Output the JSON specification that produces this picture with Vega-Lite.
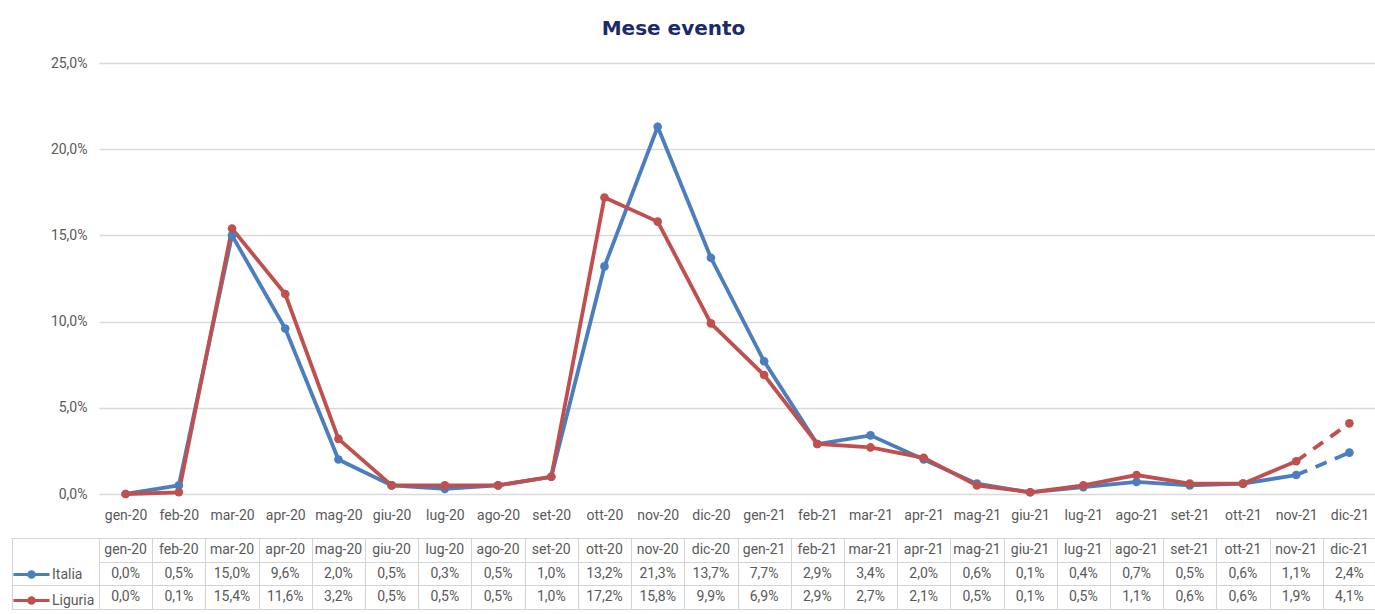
{
  "$schema": "https://vega.github.io/schema/vega-lite/v6.json",
  "padding": {"left": 10, "top": 19, "right": 0, "bottom": 0},
  "background": "white",
  "config": {
    "locale": {"number": {"decimal": ",", "thousands": ".", "grouping": [3], "currency": ["", " €"]}},
    "font": "Roboto",
    "view": {"stroke": null},
    "concat": {"spacing": 15}
  },
  "data": {"values": [
    {"mese": "gen-20", "serie": "Italia", "v": 0.000}, {"mese": "feb-20", "serie": "Italia", "v": 0.005},
    {"mese": "mar-20", "serie": "Italia", "v": 0.150}, {"mese": "apr-20", "serie": "Italia", "v": 0.096},
    {"mese": "mag-20", "serie": "Italia", "v": 0.020}, {"mese": "giu-20", "serie": "Italia", "v": 0.005},
    {"mese": "lug-20", "serie": "Italia", "v": 0.003}, {"mese": "ago-20", "serie": "Italia", "v": 0.005},
    {"mese": "set-20", "serie": "Italia", "v": 0.010}, {"mese": "ott-20", "serie": "Italia", "v": 0.132},
    {"mese": "nov-20", "serie": "Italia", "v": 0.213}, {"mese": "dic-20", "serie": "Italia", "v": 0.137},
    {"mese": "gen-21", "serie": "Italia", "v": 0.077}, {"mese": "feb-21", "serie": "Italia", "v": 0.029},
    {"mese": "mar-21", "serie": "Italia", "v": 0.034}, {"mese": "apr-21", "serie": "Italia", "v": 0.020},
    {"mese": "mag-21", "serie": "Italia", "v": 0.006}, {"mese": "giu-21", "serie": "Italia", "v": 0.001},
    {"mese": "lug-21", "serie": "Italia", "v": 0.004}, {"mese": "ago-21", "serie": "Italia", "v": 0.007},
    {"mese": "set-21", "serie": "Italia", "v": 0.005}, {"mese": "ott-21", "serie": "Italia", "v": 0.006},
    {"mese": "nov-21", "serie": "Italia", "v": 0.011}, {"mese": "dic-21", "serie": "Italia", "v": 0.024},
    {"mese": "gen-20", "serie": "Liguria", "v": 0.000}, {"mese": "feb-20", "serie": "Liguria", "v": 0.001},
    {"mese": "mar-20", "serie": "Liguria", "v": 0.154}, {"mese": "apr-20", "serie": "Liguria", "v": 0.116},
    {"mese": "mag-20", "serie": "Liguria", "v": 0.032}, {"mese": "giu-20", "serie": "Liguria", "v": 0.005},
    {"mese": "lug-20", "serie": "Liguria", "v": 0.005}, {"mese": "ago-20", "serie": "Liguria", "v": 0.005},
    {"mese": "set-20", "serie": "Liguria", "v": 0.010}, {"mese": "ott-20", "serie": "Liguria", "v": 0.172},
    {"mese": "nov-20", "serie": "Liguria", "v": 0.158}, {"mese": "dic-20", "serie": "Liguria", "v": 0.099},
    {"mese": "gen-21", "serie": "Liguria", "v": 0.069}, {"mese": "feb-21", "serie": "Liguria", "v": 0.029},
    {"mese": "mar-21", "serie": "Liguria", "v": 0.027}, {"mese": "apr-21", "serie": "Liguria", "v": 0.021},
    {"mese": "mag-21", "serie": "Liguria", "v": 0.005}, {"mese": "giu-21", "serie": "Liguria", "v": 0.001},
    {"mese": "lug-21", "serie": "Liguria", "v": 0.005}, {"mese": "ago-21", "serie": "Liguria", "v": 0.011},
    {"mese": "set-21", "serie": "Liguria", "v": 0.006}, {"mese": "ott-21", "serie": "Liguria", "v": 0.006},
    {"mese": "nov-21", "serie": "Liguria", "v": 0.019}, {"mese": "dic-21", "serie": "Liguria", "v": 0.041}
  ]},
  "resolve": {"legend": {"color": "independent"}},
  "vconcat": [
    {
      "width": 1277,
      "height": 431,
      "title": {"text": "Mese evento", "font": "DejaVu Sans", "fontSize": 20, "fontWeight": "bold", "color": "#1c2a6b", "anchor": "middle", "dx": -64, "offset": 17},
      "encoding": {
        "x": {"field": "mese", "type": "nominal", "sort": null, "title": null,
          "scale": {"type": "point", "padding": 0.5},
          "axis": {"domain": false, "ticks": false, "labelAngle": 0, "labelFontSize": 14, "labelColor": "#595959", "labelPadding": 14, "grid": false}},
        "y": {"field": "v", "type": "quantitative", "title": null,
          "scale": {"domain": [0, 0.25], "nice": false},
          "axis": {"values": [0, 0.05, 0.1, 0.15, 0.2, 0.25], "format": ".1%", "domain": false, "ticks": false, "labelFontSize": 14, "labelColor": "#595959", "labelPadding": 12, "gridColor": "#d9d9d9", "gridWidth": 1.3}},
        "color": {"field": "serie", "type": "nominal", "legend": null,
          "scale": {"domain": ["Italia", "Liguria"], "range": ["#4a7ebf", "#c0504d"]}}
      },
      "layer": [
        {"transform": [{"filter": "datum.mese != 'dic-21'"}],
         "mark": {"type": "line", "strokeWidth": 3.8}},
        {"transform": [{"filter": "datum.mese == 'nov-21' || datum.mese == 'dic-21'"}],
         "mark": {"type": "line", "strokeWidth": 3.8, "strokeDash": [12, 9]}},
        {"mark": {"type": "point", "filled": true, "size": 75, "opacity": 1}}
      ]
    },
    {
      "width": 1277,
      "height": 71,
      "resolve": {"axis": {"y": "independent"}},
      "encoding": {
        "x": {"field": "mese", "type": "nominal", "sort": null, "title": null,
          "scale": {"type": "band", "paddingInner": 0, "paddingOuter": 0},
          "axis": {"labels": false, "ticks": false, "domain": false, "grid": true, "tickBand": "extent", "gridColor": "#d4d4d4"}}
      },
      "layer": [
        {"mark": {"type": "text", "fontSize": 14, "color": "#595959"},
         "encoding": {
           "y": {"field": "serie", "type": "nominal", "title": null,
             "scale": {"type": "band", "domain": ["header", "Italia", "Liguria"], "paddingInner": 0, "paddingOuter": 0},
             "axis": {"orient": "left", "labels": false, "domain": false, "grid": true, "tickBand": "extent", "gridColor": "#d4d4d4", "tickSize": 88, "tickColor": "#d4d4d4",
               "tickOpacity": {"condition": {"test": "datum.value === 'header'", "value": 0}, "value": 1}}},
           "text": {"field": "v", "type": "quantitative", "format": ".1%"}
         }},
        {"transform": [{"filter": "datum.serie == 'Italia'"}],
         "mark": {"type": "text", "fontSize": 14, "color": "#595959"},
         "encoding": {
           "y": {"datum": "header", "type": "nominal", "axis": null},
           "text": {"field": "mese", "type": "nominal"}
         }},
        {"mark": {"type": "point", "filled": true, "opacity": 0},
         "encoding": {
           "y": {"field": "serie", "type": "nominal", "title": null,
             "axis": {"orient": "left", "offset": 87, "labels": false, "ticks": false, "grid": false, "domain": true, "domainColor": "#d4d4d4"}},
           "color": {"field": "serie", "type": "nominal",
             "scale": {"domain": ["Italia", "Liguria"], "range": ["#4a7ebf", "#c0504d"]},
             "legend": {"orient": "none", "legendX": -86, "legendY": 18, "title": null,
               "symbolType": "M-1,-0.09H1V0.09H-1Z M0.24,0A0.24,0.24,0,1,1,-0.24,0A0.24,0.24,0,1,1,0.24,0Z",
               "symbolSize": 1300, "symbolOpacity": 1, "symbolStrokeWidth": 0,
               "labelFontSize": 14, "labelColor": "#595959", "labelOffset": 2, "rowPadding": -3}}
         }}
      ]
    }
  ]
}
